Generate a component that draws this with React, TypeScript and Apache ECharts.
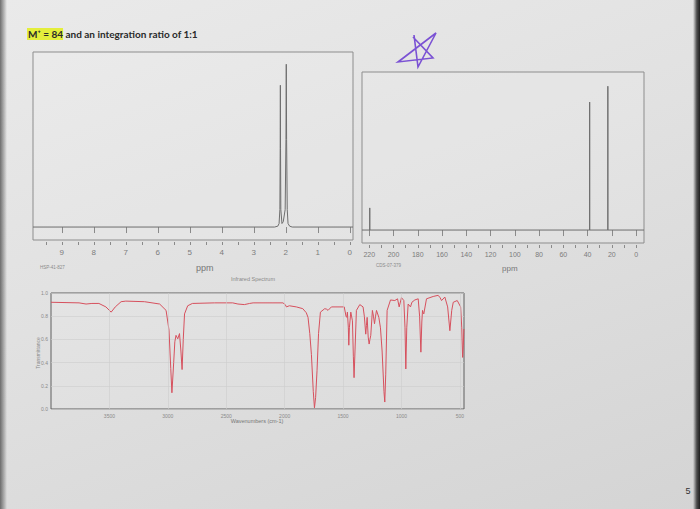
import React, { useEffect, useRef } from "react";
import * as echarts from "echarts";

// ---------- data ----------
const TITLE_HIGHLIGHT = "M⁺ = 84";
const TITLE_REST = " and an integration ratio of 1:1";

// 1H NMR (ppm, relative intensity)
const H_MAJOR_TICKS = [0, 1, 2, 3, 4, 5, 6, 7, 8, 9];
const H_MINOR_TICKS = [0, 0.5, 1, 1.5, 2, 2.5, 3, 3.5, 4, 4.5, 5, 5.5, 6, 6.5, 7, 7.5, 8, 8.5, 9, 9.5];
const H_SPECTRUM: [number, number][] = [
  [9.9, 0], [2.35, 0], [2.25, 0.005], [2.21, 0.02], [2.185, 0.1], [2.175, 0.45], [2.17, 0.81],
  [2.165, 0.45], [2.155, 0.1], [2.12, 0.02], [2.08, 0.03], [2.02, 0.1], [1.995, 0.5], [1.985, 0.93],
  [1.975, 0.5], [1.955, 0.1], [1.93, 0.02], [1.88, 0.005], [1.8, 0], [-0.1, 0],
];

// 13C NMR peaks (ppm, relative intensity)
const C_MAJOR_TICKS = [0, 20, 40, 60, 80, 100, 120, 140, 160, 180, 200, 220];
const C_MINOR_TICKS = [0, 10, 20, 30, 40, 50, 60, 70, 80, 90, 100, 110, 120, 130, 140, 150, 160, 170, 180, 190, 200, 210, 220];
const C_PEAKS: [number, number][] = [
  [219.6, 0.14],
  [38.3, 0.81],
  [23.3, 0.91],
];

// IR spectrum (wavenumber cm-1, transmittance)
const IR_X_TICKS = [3500, 3000, 2500, 2000, 1500, 1000, 500];
const IR_SPECTRUM: [number, number][] = [
  [4000, 0.92], [3760, 0.915], [3700, 0.905], [3650, 0.91], [3590, 0.91], [3530, 0.88], [3485, 0.835],
  [3450, 0.88], [3400, 0.925], [3360, 0.93], [3200, 0.925], [3070, 0.905], [3015, 0.85], [2990, 0.68],
  [2975, 0.35], [2965, 0.14], [2950, 0.4], [2940, 0.58], [2930, 0.635], [2915, 0.605], [2900, 0.65],
  [2888, 0.5], [2878, 0.34], [2868, 0.6], [2857, 0.82], [2830, 0.89], [2790, 0.91], [2600, 0.915],
  [2445, 0.915], [2400, 0.905], [2345, 0.9], [2300, 0.91], [2270, 0.915], [2100, 0.915], [2015, 0.915],
  [1995, 0.9], [1985, 0.88], [1960, 0.89], [1900, 0.88], [1845, 0.865], [1815, 0.83], [1800, 0.79],
  [1785, 0.65], [1771, 0.47], [1755, 0.15], [1745, 0.01], [1735, 0.1], [1723, 0.33], [1710, 0.65],
  [1694, 0.835], [1657, 0.865], [1640, 0.86], [1629, 0.85], [1600, 0.88], [1490, 0.88], [1475, 0.8],
  [1468, 0.79], [1463, 0.835], [1455, 0.7], [1451, 0.55], [1446, 0.7], [1434, 0.835], [1420, 0.76],
  [1412, 0.45], [1406, 0.27], [1398, 0.5], [1386, 0.85], [1357, 0.9], [1329, 0.88], [1318, 0.8],
  [1306, 0.645], [1300, 0.72], [1294, 0.79], [1285, 0.62], [1277, 0.56], [1270, 0.6], [1263, 0.635],
  [1249, 0.85], [1240, 0.8], [1231, 0.735], [1222, 0.8], [1214, 0.85], [1194, 0.79], [1180, 0.7],
  [1166, 0.5], [1150, 0.15], [1143, 0.06], [1135, 0.3], [1123, 0.85], [1094, 0.94], [1057, 0.935],
  [1034, 0.95], [1020, 0.88], [1000, 0.96], [980, 0.935], [970, 0.7], [963, 0.345], [955, 0.7],
  [943, 0.905], [923, 0.88], [911, 0.92], [886, 0.94], [857, 0.95], [845, 0.8], [834, 0.49],
  [826, 0.75], [820, 0.85], [814, 0.83], [809, 0.82], [786, 0.95], [729, 0.97], [686, 0.98],
  [670, 0.96], [657, 0.935], [629, 0.965], [605, 0.88], [586, 0.675], [570, 0.85], [557, 0.92],
  [523, 0.935], [494, 0.88], [484, 0.7], [477, 0.445], [471, 0.55], [466, 0.69],
];

// build stick spectrum from the 13C peak list
function buildSticks(peaks: [number, number][], hi: number, lo: number): [number, number][] {
  const out: [number, number][] = [[hi, 0]];
  [...peaks].sort((a, b) => b[0] - a[0]).forEach(([p, h]) => {
    out.push([p, 0], [p, h], [p, 0]);
  });
  out.push([lo, 0]);
  return out;
}

const FONT = "'Liberation Sans', Arial, sans-serif";
const NMR_LINE = "#6e6e6e";
const TICK_TXT = "#7c7c7c";

export default function App() {
  const ref = useRef<HTMLDivElement>(null);
  useEffect(() => {
    if (!ref.current) return;
    const chart = echarts.init(ref.current, null, { renderer: "svg" });

    const H_MIN = -0.1, H_MAX = 9.9;
    const C_MIN = -6.5, C_MAX = 226;
    const IR_MIN = 465, IR_MAX = 4000;

    const nmrAxis = (grid: number, min: number, max: number, ticks: number[], len: number, labels: boolean, fs: number) => ({
      type: "value",
      gridIndex: grid,
      min,
      max,
      inverse: true,
      position: "bottom",
      offset: 2,
      axisLine: { show: false },
      splitLine: { show: false },
      axisTick: { show: true, customValues: ticks, length: len, lineStyle: { color: "#8a8a8a", width: 1 } },
      axisLabel: labels
        ? { show: true, customValues: ticks, fontSize: fs, color: TICK_TXT, margin: 6, fontFamily: FONT, formatter: (v: number) => String(v) }
        : { show: false },
    });

    const txt = (x: number, y: number, text: string, fs: number, fill: string, align = "left", extra: any = {}) => ({
      type: "text",
      x,
      y,
      z: 50,
      ...extra,
      style: {
        text,
        fontSize: fs,
        fontFamily: FONT,
        fill,
        align,
        textAlign: align,
        verticalAlign: "middle",
        textVerticalAlign: "middle",
      },
    });

    const titleFont = { fontSize: 10, fontWeight: "bold", fontFamily: "Lato, 'Open Sans', sans-serif", fill: "#2a2a2a", color: "#2a2a2a" };

    const option: any = {
      animation: false,
      backgroundColor: "transparent",
      grid: [
        { left: 33, top: 52, width: 320, height: 188, show: true, borderColor: "#8d8d8d", borderWidth: 1, backgroundColor: "rgba(255,255,255,0.1)" },
        { left: 362, top: 72, width: 282, height: 171, show: true, borderColor: "#8d8d8d", borderWidth: 1, backgroundColor: "rgba(255,255,255,0.1)" },
        { left: 51, top: 293, width: 413, height: 116, show: true, borderColor: "#5e5e5e", borderWidth: 1, backgroundColor: "rgba(255,255,255,0.08)" },
      ],
      xAxis: [
        nmrAxis(0, H_MIN, H_MAX, H_MAJOR_TICKS, 6, true, 8),
        nmrAxis(0, H_MIN, H_MAX, H_MINOR_TICKS, 3, false, 8),
        nmrAxis(1, C_MIN, C_MAX, C_MAJOR_TICKS, 6, true, 7),
        nmrAxis(1, C_MIN, C_MAX, C_MINOR_TICKS, 3, false, 7),
        {
          type: "value",
          gridIndex: 2,
          min: IR_MIN,
          max: IR_MAX,
          inverse: true,
          axisLine: { show: false },
          splitLine: { show: false },
          axisTick: { show: false },
          axisLabel: {
            show: true,
            customValues: IR_X_TICKS,
            fontSize: 5,
            color: "#8a8a8a",
            margin: 4,
            fontFamily: FONT,
            formatter: (v: number) => String(v),
          },
        },
      ],
      yAxis: [
        { type: "value", gridIndex: 0, min: -0.074, max: 1, show: false },
        { type: "value", gridIndex: 1, min: -0.082, max: 1, show: false },
        {
          type: "value",
          gridIndex: 2,
          min: 0,
          max: 1,
          interval: 0.2,
          axisLine: { show: false },
          axisTick: { show: false },
          splitLine: { show: true, lineStyle: { color: "#cdcdcd", width: 0.6 } },
          axisLabel: { fontSize: 5, color: "#8a8a8a", margin: 3, fontFamily: FONT, formatter: (v: number) => v.toFixed(1) },
        },
      ],
      series: [
        {
          type: "line",
          xAxisIndex: 0,
          yAxisIndex: 0,
          data: H_SPECTRUM,
          symbol: "none",
          lineStyle: { color: NMR_LINE, width: 1 },
          silent: true,
        },
        {
          type: "line",
          xAxisIndex: 2,
          yAxisIndex: 1,
          data: buildSticks(C_PEAKS, C_MAX, C_MIN),
          symbol: "none",
          lineStyle: { color: NMR_LINE, width: 1 },
          silent: true,
        },
        {
          type: "line",
          xAxisIndex: 4,
          yAxisIndex: 2,
          data: IR_SPECTRUM,
          symbol: "none",
          lineStyle: { color: "#d6505d", width: 1 },
          silent: true,
          markLine: {
            silent: true,
            symbol: "none",
            label: { show: false },
            lineStyle: { color: "#cdcdcd", width: 0.6, type: "solid" },
            data: IR_X_TICKS.map((v) => ({ xAxis: v })),
          },
        },
      ],
      graphic: [
        {
          type: "rect",
          z: 60,
          shape: { x: 0, y: 0, width: 7, height: 509 },
          style: {
            fill: new echarts.graphic.LinearGradient(0, 0, 1, 0, [
              { offset: 0, color: "rgba(70,70,70,0.75)" },
              { offset: 1, color: "rgba(70,70,70,0)" },
            ]),
          },
        },
        {
          type: "rect",
          z: 60,
          shape: { x: 693, y: 0, width: 7, height: 509 },
          style: {
            fill: new echarts.graphic.LinearGradient(0, 0, 1, 0, [
              { offset: 0, color: "rgba(40,40,40,0)" },
              { offset: 0.55, color: "rgba(40,40,40,0.8)" },
              { offset: 1, color: "rgba(30,30,30,1)" },
            ]),
          },
        },
        {
          type: "text",
          x: 27,
          y: 34,
          z: 50,
          style: {
            text: `{hl|${TITLE_HIGHLIGHT}}{n|${TITLE_REST}}`,
            ...titleFont,
            verticalAlign: "middle",
            textVerticalAlign: "middle",
            rich: {
              hl: { ...titleFont, backgroundColor: "#e4ee3c", padding: [1, 0, 1, 1] },
              n: { ...titleFont },
            },
          },
        },
        {
          type: "polyline",
          z: 50,
          shape: { points: [[414, 35], [418, 67], [436, 33], [398, 62], [433, 58], [413, 37]] },
          style: { stroke: "#7b52d4", lineWidth: 1.6, fill: "none" },
        },
        txt(196, 268, "ppm", 9, "#777"),
        txt(502, 268, "ppm", 8, "#777"),
        txt(40, 267, "HSP-41-827", 4.5, "#8a8a8a"),
        txt(376, 265, "CDS-07-379", 4.5, "#8a8a8a"),
        txt(253, 279, "Infrared Spectrum", 5.5, "#8a8a8a", "center"),
        txt(257, 421, "Wavenumbers (cm-1)", 5.5, "#777", "center"),
        txt(38, 353, "Transmittance", 5, "#8a8a8a", "center", { rotation: Math.PI / 2 }),
        txt(688, 491, "5", 9, "#333", "center"),
      ],
    };

    chart.setOption(option);
    return () => chart.dispose();
  }, []);

  return (
    <div
      style={{
        position: "fixed",
        left: 0,
        top: 0,
        width: 700,
        height: 509,
        background: "linear-gradient(160deg, #eaeaea 0%, #e1e1e1 45%, #d4d4d4 100%)",
      }}
    >
      <div ref={ref} style={{ width: 700, height: 509 }} />
    </div>
  );
}
